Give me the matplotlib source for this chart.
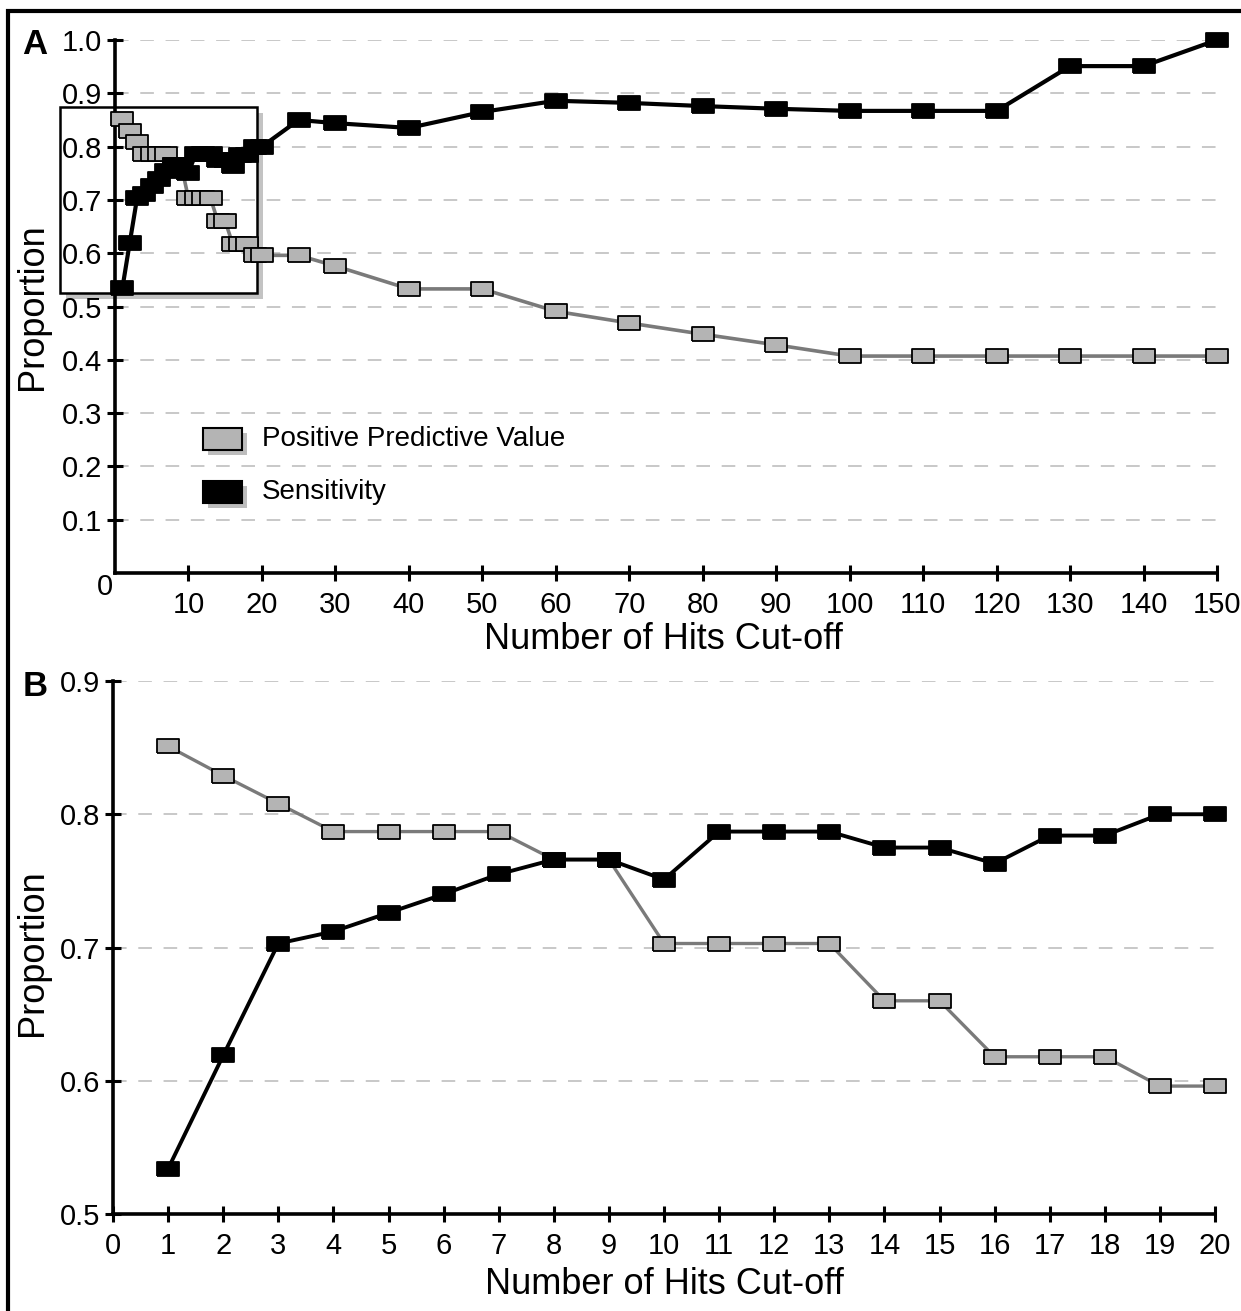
import matplotlib
matplotlib.use("Agg")
import matplotlib.pyplot as plt
from matplotlib.patches import Rectangle

plt.rcParams["font.family"] = ["Liberation Sans", "DejaVu Sans"]

# cut-offs 1..20 (panel B and start of panel A)
hits_fine = list(range(1, 21))
ppv_fine = [0.851, 0.829, 0.808, 0.787, 0.787, 0.787, 0.787, 0.766, 0.766, 0.703,
            0.703, 0.703, 0.703, 0.660, 0.660, 0.618, 0.618, 0.618, 0.596, 0.596]
sens_fine = [0.534, 0.619, 0.703, 0.712, 0.726, 0.740, 0.755, 0.766, 0.766, 0.751,
             0.787, 0.787, 0.787, 0.775, 0.775, 0.763, 0.784, 0.784, 0.800, 0.800]

# coarser cut-offs shown only in panel A
hits_coarse = [25, 30, 40, 50, 60, 70, 80, 90, 100, 110, 120, 130, 140, 150]
ppv_coarse = [0.596, 0.576, 0.533, 0.533, 0.491, 0.469, 0.448, 0.428,
              0.407, 0.407, 0.407, 0.407, 0.407, 0.407]
sens_coarse = [0.850, 0.844, 0.835, 0.865, 0.886, 0.882, 0.876, 0.871,
               0.867, 0.867, 0.867, 0.951, 0.951, 1.000]

x_ticks_a = [10, 20, 30, 40, 50, 60, 70, 80, 90, 100, 110, 120, 130, 140, 150]
y_ticks_a = [0.1, 0.2, 0.3, 0.4, 0.5, 0.6, 0.7, 0.8, 0.9, 1.0]
x_ticks_b = list(range(0, 21))
y_ticks_b = [0.5, 0.6, 0.7, 0.8, 0.9]

W, H = 1241, 1311
fig = plt.figure(figsize=(W / 100, H / 100), dpi=100)

RECT = [(-1, -0.6), (1, -0.6), (1, 0.6), (-1, 0.6), (-1, -0.6)]
PPV_FACE = "#b4b4b4"
PPV_LINE = "#7a7a7a"
TICK_FS = 21
LABEL_FS = 26


def px_axes(x0, x1, y_top, y_bot):
    return fig.add_axes([x0 / W, 1 - y_bot / H, (x1 - x0) / W, (y_bot - y_top) / H])


def style_axes(axis):
    for side in ("top", "right"):
        axis.spines[side].set_visible(False)
    for side in ("left", "bottom"):
        axis.spines[side].set_linewidth(2.6)
    axis.tick_params(direction="inout", length=12, width=2.2, labelsize=TICK_FS,
                     pad=3, color="black")
    axis.yaxis.grid(True, linestyle=(0, (7, 6)), color="#c8c8c8", linewidth=1.4)
    axis.set_axisbelow(True)
    axis.patch.set_alpha(0)


def draw_series(axis, x, ppv, sens, lw):
    axis.plot(x, ppv, color=PPV_LINE, linewidth=lw, marker=RECT, markersize=16,
              markerfacecolor=PPV_FACE, markeredgecolor="black", markeredgewidth=1.3,
              clip_on=False, zorder=3)
    axis.plot(x, sens, color="black", linewidth=lw + 0.4, marker=RECT, markersize=16,
              markerfacecolor="black", markeredgecolor="black", markeredgewidth=1.3,
              clip_on=False, zorder=4)


# outer frame
fig.patches.append(Rectangle((8 / W, -0.01), 1.0, 1 - 11 / H + 0.01, transform=fig.transFigure,
                             fill=False, edgecolor="black", linewidth=3))

# ---- panel A ----
ax_a = px_axes(115, 1217, 40, 573)
style_axes(ax_a)
ax_a.set_xlim(0, 150)
ax_a.set_ylim(0, 1.0)
ax_a.set_xticks(x_ticks_a)
ax_a.set_yticks(y_ticks_a)
ax_a.set_yticklabels([f"{v:.1f}" for v in y_ticks_a])
ax_a.tick_params(axis="x", pad=7)
ax_a.annotate("0", xy=(0, 0), xytext=(-7, -10), textcoords="offset points",
              ha="center", va="center", fontsize=TICK_FS)

# highlight box around cut-offs 1..20, drawn behind the axes
shadow = Rectangle(((60 + 6) / W, 1 - (293 + 6) / H), 197 / W, 186 / H,
                   transform=fig.transFigure, facecolor="#555555", alpha=0.35,
                   edgecolor="none", zorder=-2)
box = Rectangle((60 / W, 1 - 293 / H), 197 / W, 186 / H, transform=fig.transFigure,
                facecolor="white", edgecolor="black", linewidth=1.8, zorder=-1)
fig.patches.extend([shadow, box])

draw_series(ax_a, hits_fine + hits_coarse, ppv_fine + ppv_coarse,
            sens_fine + sens_coarse, 2.6)

ax_a.set_xlabel("Number of Hits Cut-off", fontsize=LABEL_FS)
ax_a.set_ylabel("Proportion", fontsize=LABEL_FS)
ax_a.xaxis.set_label_coords(0.498, -0.092)
ax_a.yaxis.set_label_coords(-0.059, 0.5)

# legend drawn by hand with shadowed swatches
for (ly, face, label) in [(439, PPV_FACE, "Positive Predictive Value"),
                          (492, "black", "Sensitivity")]:
    fig.patches.append(Rectangle(((203 + 5) / W, 1 - (ly + 11 + 5) / H), 39 / W, 22 / H,
                                 transform=fig.transFigure, facecolor="#444444",
                                 alpha=0.35, edgecolor="none"))
    fig.patches.append(Rectangle((203 / W, 1 - (ly + 11) / H), 39 / W, 22 / H,
                                 transform=fig.transFigure, facecolor=face,
                                 edgecolor="black", linewidth=1.5))
    fig.text(262 / W, 1 - ly / H, label, fontsize=20, va="center", ha="left")

fig.text(35 / W, 1 - 45 / H, "A", fontsize=25, fontweight="bold", ha="center", va="center")

# ---- panel B ----
ax_b = px_axes(113, 1215, 681, 1214)
style_axes(ax_b)
ax_b.set_xlim(0, 20)
ax_b.set_ylim(0.5, 0.9)
ax_b.set_xticks(x_ticks_b)
ax_b.set_yticks(y_ticks_b)
ax_b.set_yticklabels([f"{v:.1f}" for v in y_ticks_b])
ax_b.tick_params(axis="x", pad=7)

draw_series(ax_b, hits_fine, ppv_fine, sens_fine, 2.4)

ax_b.set_xlabel("Number of Hits Cut-off", fontsize=LABEL_FS)
ax_b.set_ylabel("Proportion", fontsize=LABEL_FS)
ax_b.xaxis.set_label_coords(0.50, -0.0995)
ax_b.yaxis.set_label_coords(-0.057, 0.49)

fig.text(35 / W, 1 - 686 / H, "B", fontsize=25, fontweight="bold", ha="center", va="center")

fig.savefig("out.png", dpi=100)
